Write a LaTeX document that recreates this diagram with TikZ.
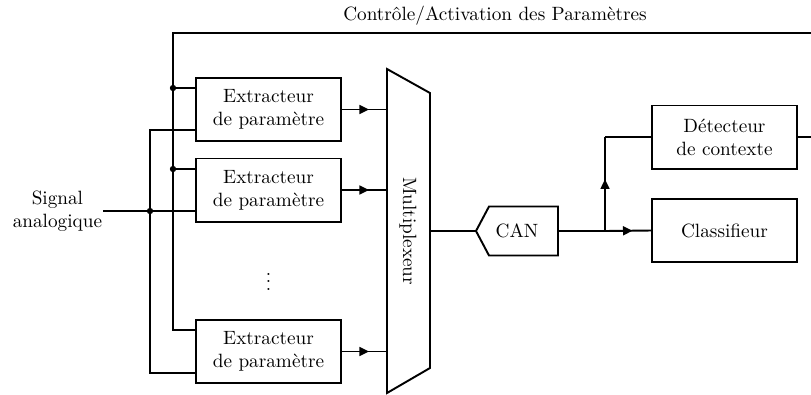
\documentclass[tikz,border=0pt]{standalone}
\usetikzlibrary{arrows.meta,decorations.markings}
\begin{document}
\begin{tikzpicture}[x=0.52pt,y=-0.52pt,
  line width=1pt,
  blk/.style={draw,minimum width=75.4pt,minimum height=32.8pt,inner sep=0pt,align=center,font=\normalsize},
  midarrow/.style={postaction={decorate},decoration={markings,mark=at position #1 with {\arrow{Triangle[length=5pt,width=4.6pt]}}}},
  junc/.style={circle,fill,inner sep=0pt,minimum size=3.3pt}]
\useasboundingbox (0,0) rectangle (811,394);
% extractors
\node[blk] (b1) at (268.5,109.5) {Extracteur\\de paramètre};
\node[blk] (b2) at (268.5,190) {Extracteur\\de paramètre};
\node[blk] (b3) at (268.5,351.5) {Extracteur\\de paramètre};
\node (dots) at (268.5,276) {$\vdots$};
% multiplexer
\coordinate (mTL) at (387,69);
\coordinate (mBL) at (387,393);
\coordinate (mTR) at (430,93);
\coordinate (mBR) at (430,368);
\draw (mTL) -- (mTR) -- (mBR) -- (mBL) -- cycle;
\node[rotate=-90] (mux) at (408,231) {Multiplexeur};
\coordinate (muxL) at (387,231);
\coordinate (muxR) at (430,231);
% CAN
\coordinate (canL) at (476,231);
\coordinate (canR) at (558,231);
\draw (canL) -- (489,206.5) -- (558,206.5) -- (558,255.5) -- (489,255.5) -- cycle;
\node (can) at (517,231) {CAN};
% right blocks
\node[blk] (det) at (724.5,137) {Détecteur\\de contexte};
\node[blk] (cls) at (724.5,230.5) {Classifieur};
% labels
\node (ctl) at (495,16) {Contrôle/Activation des Paramètres};
\node[align=center,anchor=east,inner sep=0pt] (sig) at (103,211) {Signal\\analogique};
% control bus
\coordinate (cTop) at (173,33);
\coordinate (c1) at (173,88);
\coordinate (c2) at (173,169);
\coordinate (c3) at (173,330);
\coordinate (rTop) at (813,33);
\draw (det.east) -| (rTop) -- (cTop) -- (c3) -- (c3 -| b3.west);
\draw (c1) -- (c1 -| b1.west);
\draw (c2) -- (c2 -| b2.west);
\node[junc] at (c1) {};
\node[junc] at (c2) {};
% signal bus
\coordinate (s1) at (150,130);
\coordinate (s2) at (150,211);
\coordinate (s3) at (150,373);
\draw (s1 -| b1.west) -- (s1) -- (s3) -- (s3 -| b3.west);
\draw (sig.east) -- (s2 -| b2.west);
\node[junc] at (s2) {};
% extractor outputs
\draw[midarrow=0.6] (b1.east) -- (b1.east -| muxL);
\draw[midarrow=0.6] (b2.east) -- (b2.east -| muxL);
\draw[midarrow=0.6] (b3.east) -- (b3.east -| muxL);
% mux to CAN
\draw (muxR) -- (canL);
% CAN outputs
\coordinate (br) at (605,231);
\coordinate (bt) at (605,137);
\draw (canR) -- (br);
\draw[midarrow=0.6] (br) -- (cls.west);
\draw[midarrow=0.55] (br) -- (bt);
\draw (bt) -- (det.west);
\end{tikzpicture}
\end{document}
